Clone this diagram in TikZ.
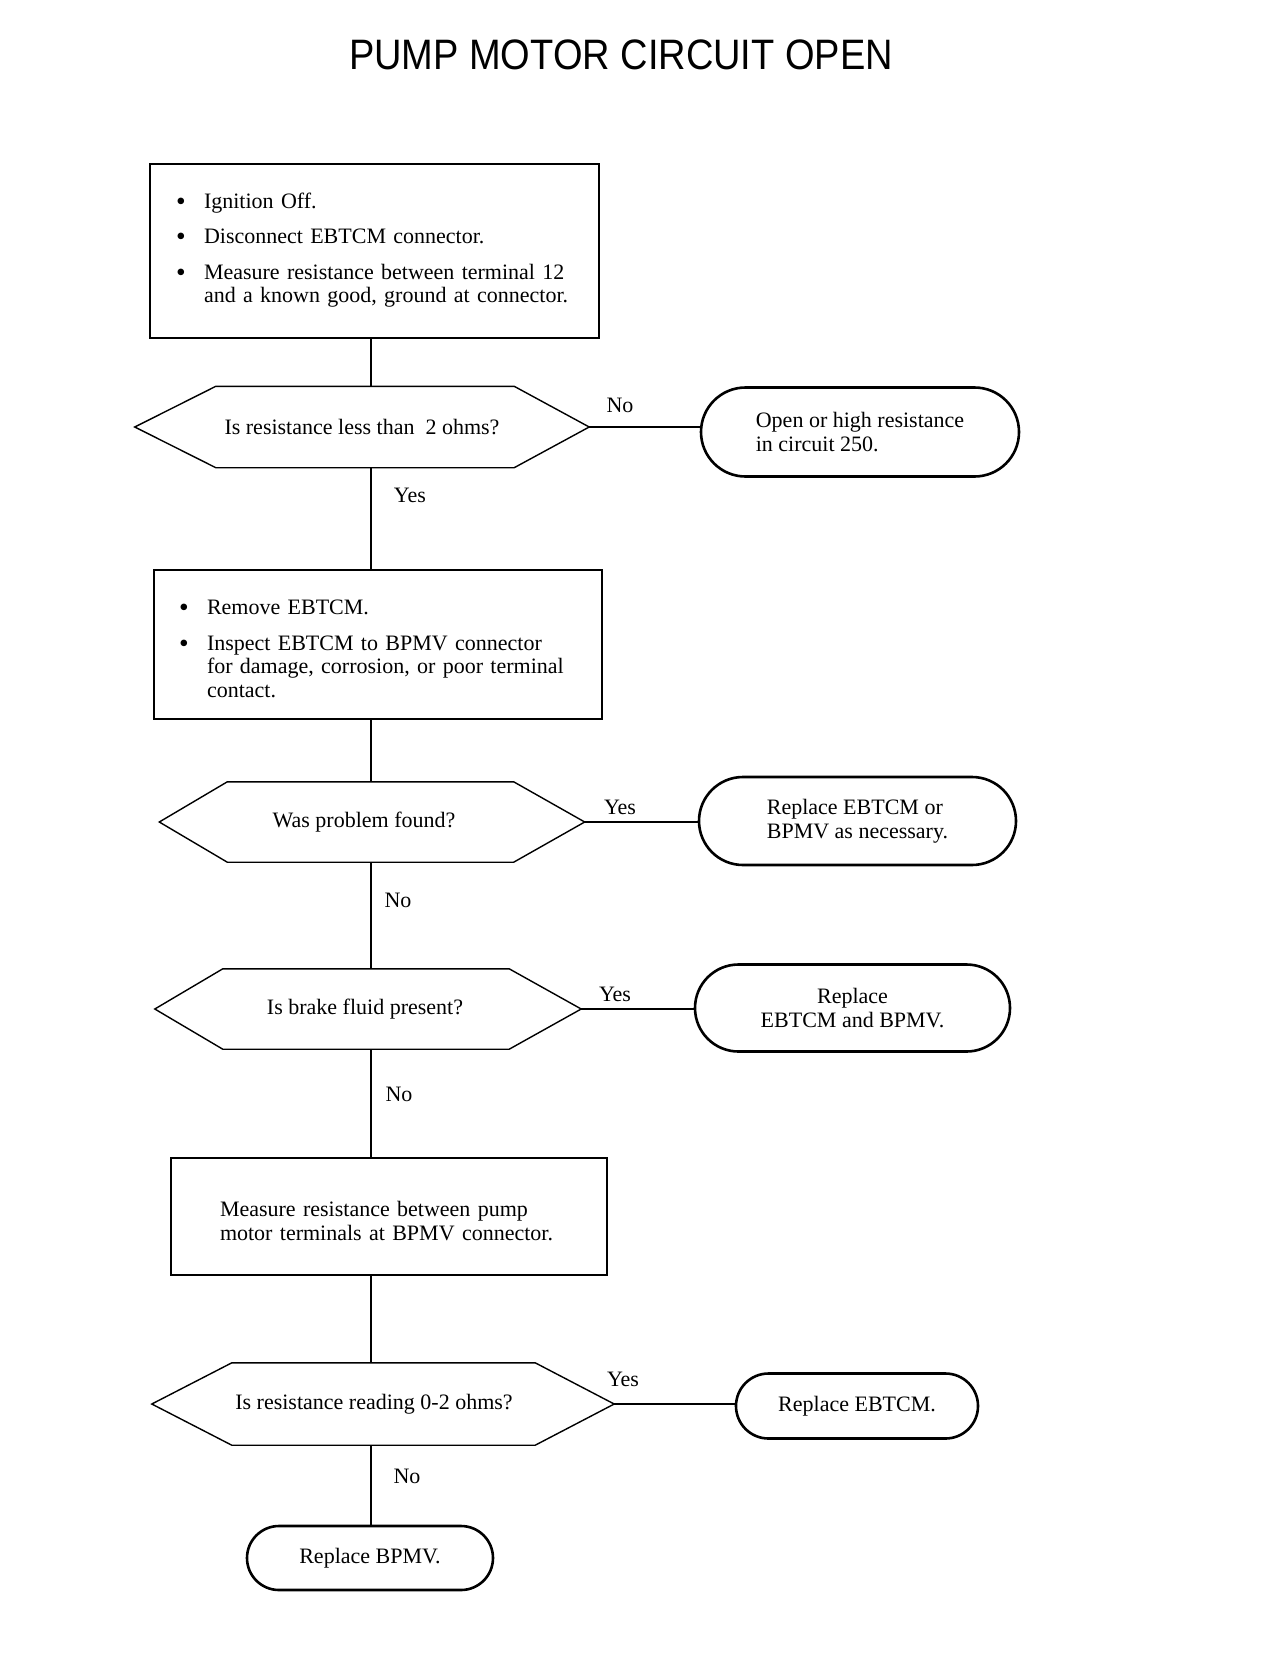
\documentclass[tikz,border=0pt]{standalone}
\usepackage{fontspec}
\setmainfont{Liberation Serif}
\newfontfamily\titlefont{Liberation Sans}
\usetikzlibrary{shapes.misc}
\newcommand{\hexpath}[3]{%
  \draw[hexa] (#1.west) -- ([xshift=#2]#1.north west) -- ([xshift=-#3]#1.north east) -- (#1.east) -- ([xshift=-#3]#1.south east) -- ([xshift=#2]#1.south west) -- cycle;}
\newcommand{\bul}{\raisebox{-2pt}[0pt][0pt]{\scalebox{1.25}{\textbullet}}}
\begin{document}
\begin{tikzpicture}[x=1pt,y=-1pt,
  every node/.style={font=\fontsize{22}{23.5}\selectfont},
  procbox/.style={draw, line width=1.4pt, inner sep=0pt, align=left},
  term/.style={draw, line width=2.6pt, rounded rectangle, inner sep=0pt, align=left},
  dtext/.style={inner sep=0pt},
  hexa/.style={line width=1.4pt, line join=miter},
  conn/.style={line width=1.4pt},
  lbl/.style={inner sep=0pt}]
\path[use as bounding box] (0,0) rectangle (1280,1664);

\node[font=\titlefont\fontsize{38}{40}\selectfont] (title) at (621,55) {\scalebox{1}[1.12]{PUMP MOTOR CIRCUIT OPEN}};

% process boxes
\node[procbox, minimum width=449, minimum height=174, text width=397] (B1) at (374.5,251) {%
\begin{tabular}{@{}p{28pt}@{}l@{}}
\bul & Ignition Off.\\[12pt]
\bul & Disconnect EBTCM connector.\\[12pt]
\bul & Measure resistance between terminal 12\\
 & and a known good, ground at connector.
\end{tabular}};

\node[procbox, minimum width=448, minimum height=149, text width=398] (B2) at (378,644.5) {%
\begin{tabular}{@{}p{28pt}@{}l@{}}
\bul & \rule{0pt}{30pt}Remove EBTCM.\\[12pt]
\bul & Inspect EBTCM to BPMV connector\\
 & for damage, corrosion, or poor terminal\\
 & contact.
\end{tabular}};

\node[procbox, minimum width=436, minimum height=117, text width=338] (B3) at (389,1216.5) {\rule{0pt}{24pt}Measure resistance between pump\\motor terminals at BPMV connector.};

% decisions
\node[dtext, minimum width=454, minimum height=81] (D1) at (362,427) {Is resistance less than \ 2 ohms?};
\hexpath{D1}{81}{75}
\node[dtext, minimum width=425, minimum height=80] (D2) at (372,822) {Was problem found?\hspace*{16pt}};
\hexpath{D2}{68}{71}
\node[dtext, minimum width=426, minimum height=80] (D3) at (368,1009) {Is brake fluid present?\hspace*{6pt}};
\hexpath{D3}{68}{72}
\node[dtext, minimum width=462, minimum height=82] (D4) at (383,1404) {Is resistance reading 0-2 ohms?\hspace*{18pt}};
\hexpath{D4}{80}{79}

% terminals
\node[term, minimum width=318, minimum height=89] (T1) at (860,432) {Open or high resistance\\in circuit 250.};
\node[term, minimum width=317, minimum height=88] (T2) at (857.5,821) {Replace EBTCM or\\BPMV as necessary.};
\node[term, minimum width=315, minimum height=87, align=center] (T3) at (852.5,1008) {Replace\\EBTCM and BPMV.};
\node[term, minimum width=242, minimum height=65] (T4) at (857,1406) {Replace EBTCM.};
\node[term, minimum width=246, minimum height=64] (T5) at (370,1558) {Replace BPMV.};

% connectors
\coordinate (sp) at (371,0);
\draw[conn] (B1.south -| sp) -- (D1.north -| sp);
\draw[conn] (D1.south -| sp) -- (B2.north -| sp);
\draw[conn] (B2.south -| sp) -- (D2.north -| sp);
\draw[conn] (D2.south -| sp) -- (D3.north -| sp);
\draw[conn] (D3.south -| sp) -- (B3.north -| sp);
\draw[conn] (B3.south -| sp) -- (D4.north -| sp);
\draw[conn] (D4.south -| sp) -- (T5.north -| sp);
\draw[conn] (D1.east) -- (D1.east -| T1.west);
\draw[conn] (D2.east) -- (D2.east -| T2.west);
\draw[conn] (D3.east) -- (D3.east -| T3.west);
\draw[conn] (D4.east) -- (D4.east -| T4.west);

% labels
\node[lbl] (l1) at (620,405) {No};
\node[lbl] (l2) at (410,495) {Yes};
\node[lbl] (l3) at (620,807) {Yes};
\node[lbl] (l4) at (398,900) {No};
\node[lbl] (l5) at (615,994) {Yes};
\node[lbl] (l6) at (399,1094) {No};
\node[lbl] (l7) at (623,1379) {Yes};
\node[lbl] (l8) at (407,1476) {No};
\end{tikzpicture}
\end{document}
